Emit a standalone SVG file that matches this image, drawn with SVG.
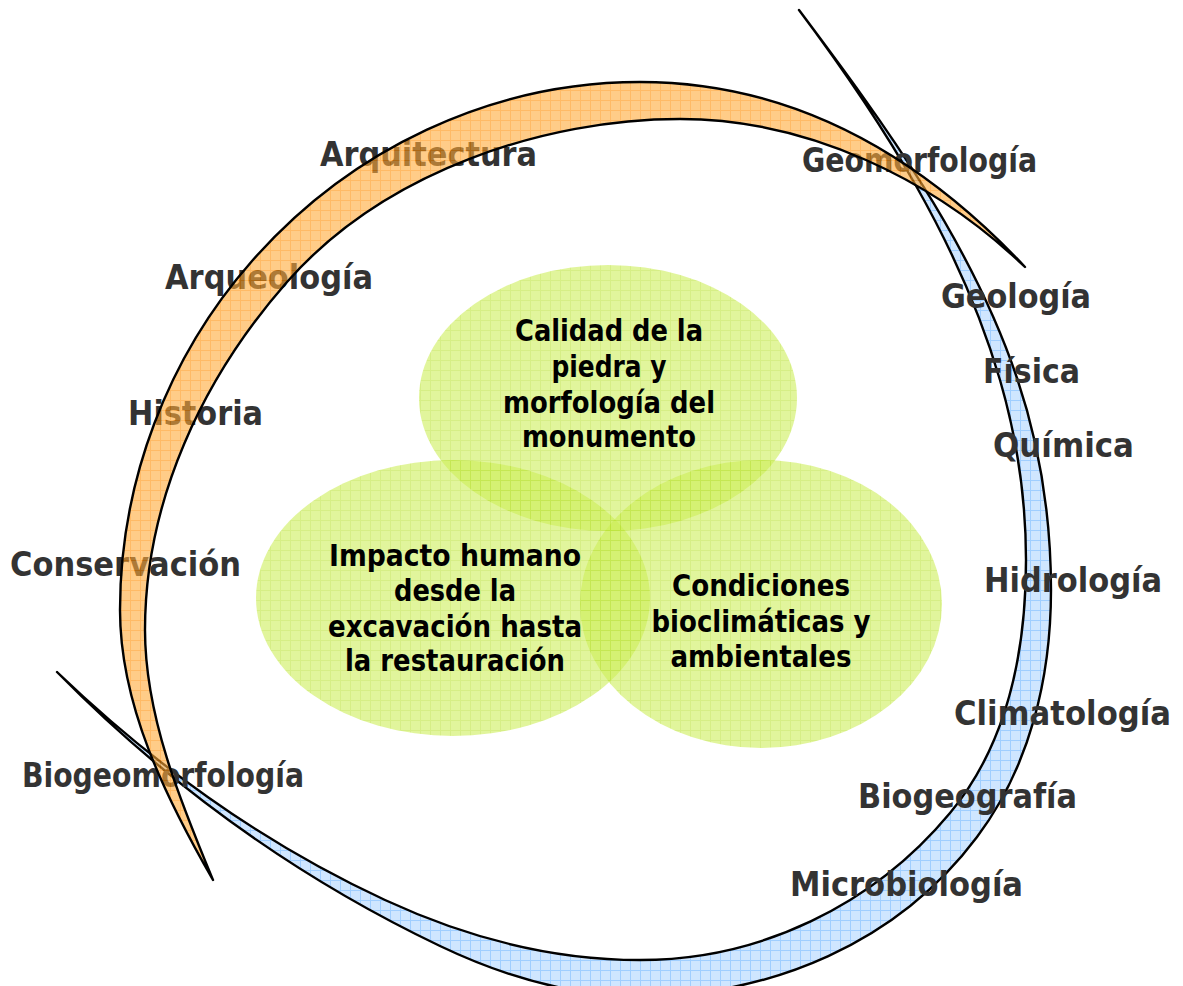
<svg xmlns="http://www.w3.org/2000/svg" width="1183" height="986" viewBox="0 0 1183 986">
<defs>
<pattern id="pOrange" width="10" height="10" patternUnits="userSpaceOnUse">
<rect width="10" height="10" fill="#FFAA39"/>
<path d="M0 0.5H10M0.5 0V10" stroke="#FF8C00" stroke-width="1"/>
</pattern>
<pattern id="pBlue" width="10" height="10" patternUnits="userSpaceOnUse">
<rect width="10" height="10" fill="#CFE6FF"/>
<path d="M0 0.5H10M0.5 0V10" stroke="#A0CEFF" stroke-width="1"/>
</pattern>
<pattern id="pGreen" width="10" height="10" patternUnits="userSpaceOnUse">
<rect width="10" height="10" fill="#CCEE55"/>
<path d="M0 0.5H10M0.5 0V10" stroke="#B8E22E" stroke-width="1"/>
</pattern>
<style>
.band{stroke:#000;stroke-width:2.4;stroke-linejoin:round}
.circ{fill:url(#pGreen);opacity:0.58}
.lbl{font-family:"DejaVu Sans Condensed","DejaVu Sans",sans-serif;font-stretch:condensed;font-weight:bold;font-size:34px;fill:#333333}
.ctr{font-family:"DejaVu Sans Condensed","DejaVu Sans",sans-serif;font-stretch:condensed;font-weight:bold;font-size:31px;fill:#000000;text-anchor:middle}
</style>
</defs>
<rect width="1183" height="986" fill="#FFFFFF"/>

<g id="blue-band">
<path class="band" fill="url(#pBlue)" d="M799,10 C883.6,122.8 960.5,244.6 1000,380 C1017,438.6 1026,499 1026,560 C1026,651 1008.2,743 950,813 C873.2,905.4 760,960 640,960 C552,960 465,937 385,900 C263,843.7 153.5,764.5 57,672 C167.6,784.2 297.8,878.1 440,946 C502.1,975.7 571,996 640,996 C772,996 897.8,942.6 977,837 C1029.8,766.6 1051,678 1051,590 C1051,518 1040,446.4 1017,378 C971.2,242.1 884.8,124.4 799,10 Z"/>
</g>

<g id="circles">
<g id="c-top"><ellipse class="circ" cx="608" cy="398" rx="189" ry="133"/></g>
<g id="c-left"><ellipse class="circ" cx="453" cy="598" rx="197" ry="138"/></g>
<g id="c-right"><ellipse class="circ" cx="761" cy="604" rx="181" ry="144"/></g>
</g>

<g id="center-texts">
<g id="t-top">
<text class="ctr" x="609" y="341" textLength="188" lengthAdjust="spacingAndGlyphs">Calidad de la</text>
<text class="ctr" x="609" y="377" textLength="115" lengthAdjust="spacingAndGlyphs">piedra y</text>
<text class="ctr" x="609" y="413" textLength="212" lengthAdjust="spacingAndGlyphs">morfología del</text>
<text class="ctr" x="609" y="447" textLength="174" lengthAdjust="spacingAndGlyphs">monumento</text>
</g>
<g id="t-left">
<text class="ctr" x="455" y="566" textLength="252" lengthAdjust="spacingAndGlyphs">Impacto humano</text>
<text class="ctr" x="455" y="601" textLength="122" lengthAdjust="spacingAndGlyphs">desde la</text>
<text class="ctr" x="455" y="637" textLength="254" lengthAdjust="spacingAndGlyphs">excavación hasta</text>
<text class="ctr" x="455" y="671" textLength="220" lengthAdjust="spacingAndGlyphs">la restauración</text>
</g>
<g id="t-right">
<text class="ctr" x="761" y="596" textLength="178" lengthAdjust="spacingAndGlyphs">Condiciones</text>
<text class="ctr" x="761" y="632" textLength="219" lengthAdjust="spacingAndGlyphs">bioclimáticas y</text>
<text class="ctr" x="761" y="667" textLength="181" lengthAdjust="spacingAndGlyphs">ambientales</text>
</g>
</g>

<g id="labels">
<g id="l-arquitectura"><text class="lbl" x="320" y="166" textLength="217" lengthAdjust="spacingAndGlyphs">Arquitectura</text></g>
<g id="l-arqueologia"><text class="lbl" x="165" y="289" textLength="208" lengthAdjust="spacingAndGlyphs">Arqueología</text></g>
<g id="l-historia"><text class="lbl" x="128" y="425" textLength="135" lengthAdjust="spacingAndGlyphs">Historia</text></g>
<g id="l-conservacion"><text class="lbl" x="10" y="576" textLength="231" lengthAdjust="spacingAndGlyphs">Conservación</text></g>
<g id="l-biogeomorfologia"><text class="lbl" x="22" y="787" textLength="282" lengthAdjust="spacingAndGlyphs">Biogeomorfología</text></g>
<g id="l-geomorfologia"><text class="lbl" x="802" y="172" textLength="235" lengthAdjust="spacingAndGlyphs">Geomorfología</text></g>
<g id="l-geologia"><text class="lbl" x="941" y="308" textLength="150" lengthAdjust="spacingAndGlyphs">Geología</text></g>
<g id="l-fisica"><text class="lbl" x="983" y="383" textLength="97" lengthAdjust="spacingAndGlyphs">Física</text></g>
<g id="l-quimica"><text class="lbl" x="993" y="457" textLength="141" lengthAdjust="spacingAndGlyphs">Química</text></g>
<g id="l-hidrologia"><text class="lbl" x="984" y="592" textLength="178" lengthAdjust="spacingAndGlyphs">Hidrología</text></g>
<g id="l-climatologia"><text class="lbl" x="954" y="725" textLength="217" lengthAdjust="spacingAndGlyphs">Climatología</text></g>
<g id="l-biogeografia"><text class="lbl" x="858" y="808" textLength="219" lengthAdjust="spacingAndGlyphs">Biogeografía</text></g>
<g id="l-microbiologia"><text class="lbl" x="790" y="896" textLength="233" lengthAdjust="spacingAndGlyphs">Microbiología</text></g>
</g>

<g id="orange-band">
<path class="band" fill="url(#pOrange)" fill-opacity="0.6" d="M213,880 C165.5,797.4 120,705 120,610 C120,482 167.5,357 252,261 C350.3,149.2 491,82 640,82 C787,82 915,150 1025,267 C933,179 808,119 680,119 C545,119 384.7,171 287,282 C202,379 145,501 145,630 C145,716 180.3,801 213,880 Z"/>
</g>
</svg>
